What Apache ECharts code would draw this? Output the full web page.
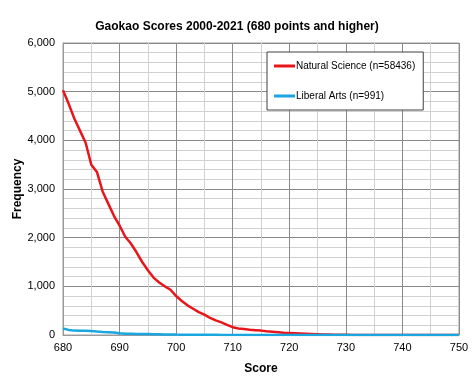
<!DOCTYPE html>
<html><head><meta charset="utf-8">
<script src="https://cdn.jsdelivr.net/npm/echarts@6/dist/echarts.min.js"></script>
<style>html,body{margin:0;padding:0;background:#fff}#c{width:474px;height:386px}</style>
</head><body><div id="c"></div>
<script>
var titleText = 'Gaokao Scores 2000-2021 (680 points and higher)';
var scores = [];
for (var s = 680; s <= 750; s++) scores.push(s);
var naturalScience = [5030,4750,4450,4200,3950,3500,3350,2950,2700,2450,
  2250,2020,1880,1700,1500,1330,1180,1080,1000,930,
  800,700,610,540,470,420,350,300,260,210,
  160,135,125,110,100,90,75,65,55,45,
  40,35,30,25,20,15,10,8,5,4,
  3,2,1,1,0,0,0,0,0,0,
  0,0,0,0,0,0,0,0,0,0,0];
var liberalArts = [135,105,90,88,85,80,70,62,58,50,
  35,28,25,22,20,18,15,13,11,10,
  8,7,6,5,5,4,3,3,2,2,
  2,1,1,1,1,0,0,0,0,0,
  0,0,0,0,0,0,0,0,0,0,
  0,0,0,0,0,0,0,0,0,0,
  0,0,0,0,0,0,0,0,0,0,0];
var nameNS = 'Natural Science (n=58436)';
var nameLA = 'Liberal Arts (n=991)';

function pairs(vals){ return scores.map(function(x,i){ return [x, vals[i]]; }); }
var font = '"Liberation Sans", Arial, sans-serif';
var chart = echarts.init(document.getElementById('c'));
chart.setOption({
  animation: false,
  backgroundColor: '#fff',
  title: { text: titleText, left: 'center', top: 16,
    textStyle: { fontFamily: font, fontSize: 12, fontWeight: 'bold', color: '#000' } },
  grid: { left: 63, top: 43, width: 396, height: 292, show: true, borderColor: '#9a9a9a', borderWidth: 1 },
  legend: {
    data: [{name: nameNS, icon: 'rect'}, {name: nameLA, icon: 'rect'}],
    orient: 'vertical', left: 267, top: 52,
    backgroundColor: '#fff', borderColor: '#404040', borderWidth: 1,
    padding: [8, 8, 8, 7], itemGap: 18, itemWidth: 21, itemHeight: 3,
    textStyle: { fontFamily: font, fontSize: 10, color: '#000', padding: [0,0,0,-4], lineHeight: 12 }
  },
  xAxis: {
    type: 'value', min: 680, max: 750, interval: 10,
    name: 'Score', nameLocation: 'middle', nameGap: 28, nameMoveOverlap: false,
    nameTextStyle: { fontFamily: font, fontSize: 12, fontWeight: 'bold', color: '#000' },
    axisLine: { show: true, lineStyle: { color: '#9a9a9a' } },
    axisTick: { show: false },
    axisLabel: { fontFamily: font, fontSize: 11, color: '#000', margin: 7 },
    splitLine: { show: true, lineStyle: { color: '#8a8a8a', width: 1 } },
    minorTick: { show: false, splitNumber: 2 },
    minorSplitLine: { show: true, lineStyle: { color: '#d0d0d0', width: 1 } }
  },
  yAxis: {
    type: 'value', min: 0, max: 6000, interval: 1000,
    name: 'Frequency', nameLocation: 'middle', nameGap: 39, nameMoveOverlap: false,
    nameTextStyle: { fontFamily: font, fontSize: 12, fontWeight: 'bold', color: '#000' },
    axisLine: { show: true, lineStyle: { color: '#9a9a9a' } },
    axisTick: { show: false },
    axisLabel: { fontFamily: font, fontSize: 11, color: '#000', margin: 8,
      formatter: function(v){ return v.toLocaleString('en-US'); } },
    splitLine: { show: true, lineStyle: { color: '#8a8a8a', width: 1 } },
    minorTick: { show: false, splitNumber: 5 },
    minorSplitLine: { show: true, lineStyle: { color: '#d0d0d0', width: 1 } }
  },
  series: [
    { name: nameNS, type: 'line', data: pairs(naturalScience), symbol: 'none', smooth: false,
      lineStyle: { color: '#e8161b', width: 2.5 }, itemStyle: { color: '#e8161b' }, z: 2 },
    { name: nameLA, type: 'line', data: pairs(liberalArts), symbol: 'none', smooth: false,
      lineStyle: { color: '#1aa7e0', width: 2.5 }, itemStyle: { color: '#1aa7e0' }, z: 3 }
  ]
});
</script></body></html>
